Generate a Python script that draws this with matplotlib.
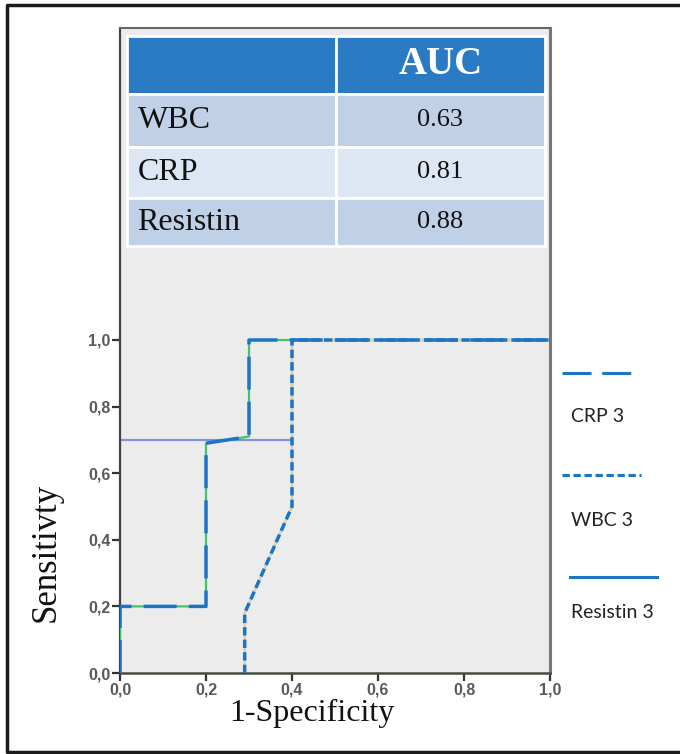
import matplotlib
matplotlib.use("Agg")
import matplotlib.pyplot as plt
from matplotlib.lines import Line2D

# ROC curve points (1-specificity, sensitivity)
crp_x = [0.0, 0.0, 0.2, 0.2, 0.3, 0.3, 1.0]
crp_y = [0.0, 0.2, 0.2, 0.69, 0.71, 1.0, 1.0]
wbc_x = [0.29, 0.29, 0.4, 0.4, 1.0]
wbc_y = [0.0, 0.18, 0.5, 1.0, 1.0]
res_x = [0.0, 0.0, 0.4, 0.4, 1.0]
res_y = [0.0, 0.7, 0.7, 1.0, 1.0]

markers = ["WBC", "CRP", "Resistin"]
auc = ["0.63", "0.81", "0.88"]
legend_names = ["CRP 3", "WBC 3", "Resistin 3"]
ticks = [0.0, 0.2, 0.4, 0.6, 0.8, 1.0]
tick_labels = ["0,0", "0,2", "0,4", "0,6", "0,8", "1,0"]

BLUE = "#1b74c6"
GREEN = "#45c26a"
BEIGE = "#d9d2a4"
VIOLET = "#8093d6"
SERIF = "Liberation Serif"

W, H = 680, 754
fig = plt.figure(figsize=(W / 100, H / 100), dpi=100)


def px(x, y):
    return x / W, 1 - y / H


# outer frame (left, top, bottom; right edge is cut off)
fx0, _ = px(7, 0)
_, fy_top = px(0, 5)
_, fy_bot = px(0, 752)
fig.add_artist(Line2D([1.0, fx0, fx0, 1.0], [fy_top, fy_top, fy_bot, fy_bot],
                      transform=fig.transFigure, color="#1a1a1a", lw=2.5))

left, right, top, bottom = 120, 550, 28, 673
ax = fig.add_axes([left / W, 1 - bottom / H, (right - left) / W, (bottom - top) / H])
ax.set_facecolor("#ececec")
y_top = (bottom - top) / (bottom - 340)
ax.set_xlim(0, 1)
ax.set_ylim(0, y_top)

crp_style = (0, (9.5, 3.5))
wbc_style = (0, (2.4, 1.2))

ax.plot(res_x, res_y, color=VIOLET, lw=1.6, zorder=2)
ax.plot(crp_x, crp_y, color=GREEN, lw=1.6, zorder=3)
ax.plot(wbc_x, wbc_y, color=BEIGE, lw=1.8, zorder=3)
ax.plot(wbc_x, wbc_y, color=BLUE, lw=2.5, ls=wbc_style, zorder=4)
ax.plot(crp_x, crp_y, color=BLUE, lw=2.5, ls=crp_style, zorder=5)

ax.set_xticks(ticks)
ax.set_xticklabels(tick_labels)
ax.set_yticks(ticks)
ax.set_yticklabels(tick_labels)
ax.tick_params(direction="out", length=6, width=1.6, color="#333333", pad=1,
               labelsize=11.5, labelcolor="#5a5a5a")
for lab in ax.get_xticklabels() + ax.get_yticklabels():
    lab.set_fontweight("bold")
    lab.set_family("Liberation Sans")

ax.spines["left"].set_color("#444444")
ax.spines["left"].set_linewidth(1.6)
ax.spines["bottom"].set_color("#4a4a40")
ax.spines["bottom"].set_linewidth(1.8)
ax.spines["right"].set_color("#777777")
ax.spines["right"].set_linewidth(2.2)
ax.spines["top"].set_color("#666666")
ax.spines["top"].set_linewidth(1.5)

fig.text(*px(312, 713), "1-Specificity", family=SERIF, fontsize=23, ha="center", va="center",
         color="#111111")
fig.text(*px(46, 552), "Sensitivty", family=SERIF, fontsize=25, ha="center", va="center",
         rotation=90, color="#111111")

# AUC table
cells = [["", "AUC"]] + [[m, v] for m, v in zip(markers, auc)]
colors = [["#2a7bc4", "#2a7bc4"], ["#c0d0e6"] * 2, ["#dde7f3"] * 2, ["#c0d0e6"] * 2]
tb_l, tb_r, tb_t, tb_b = 127, 545, 36, 246
bbox = [(tb_l - left) / (right - left), (bottom - tb_b) / (bottom - top),
        (tb_r - tb_l) / (right - left), (tb_b - tb_t) / (bottom - top)]
table = ax.table(cellText=cells, cellColours=colors, bbox=bbox, zorder=10)
table.auto_set_font_size(False)
row_h = [58, 53, 51, 48]
col_w = [209, 209]
for (r, c), cell in table.get_celld().items():
    cell.set_edgecolor("white")
    cell.set_linewidth(2)
    cell.set_height(row_h[r])
    cell.set_width(col_w[c])
    txt = cell.get_text()
    txt.set_family(SERIF)
    if r == 0:
        txt.set_color("white")
        txt.set_fontweight("bold")
        txt.set_fontsize(28)
        txt.set_ha("center")
    elif c == 0:
        cell.PAD = 0.05
        txt.set_fontsize(23)
        txt.set_color("#111111")
        cell._loc = "left"
        txt.set_ha("left")
    else:
        txt.set_fontsize(19)
        txt.set_color("#111111")
        txt.set_ha("center")

# legend to the right of the plot
leg_lines = [((562, 640), 373, crp_style, 2.2), ((562, 641), 475, wbc_style, 2.2),
             ((570, 657), 577, "-", 2.2)]
leg_text_y = [417, 520, 612]
for (xs, y, ls, lw), name, ty in zip(leg_lines, legend_names, leg_text_y):
    x0, y0 = px(xs[0], y)
    x1, _ = px(xs[1], y)
    fig.add_artist(Line2D([x0, x1], [y0, y0], transform=fig.transFigure, color=BLUE, lw=lw, ls=ls))
    fig.text(*px(571, ty), name, family="Lato", fontsize=14, va="center", color="#222222")

fig.savefig("out.png", dpi=100)
